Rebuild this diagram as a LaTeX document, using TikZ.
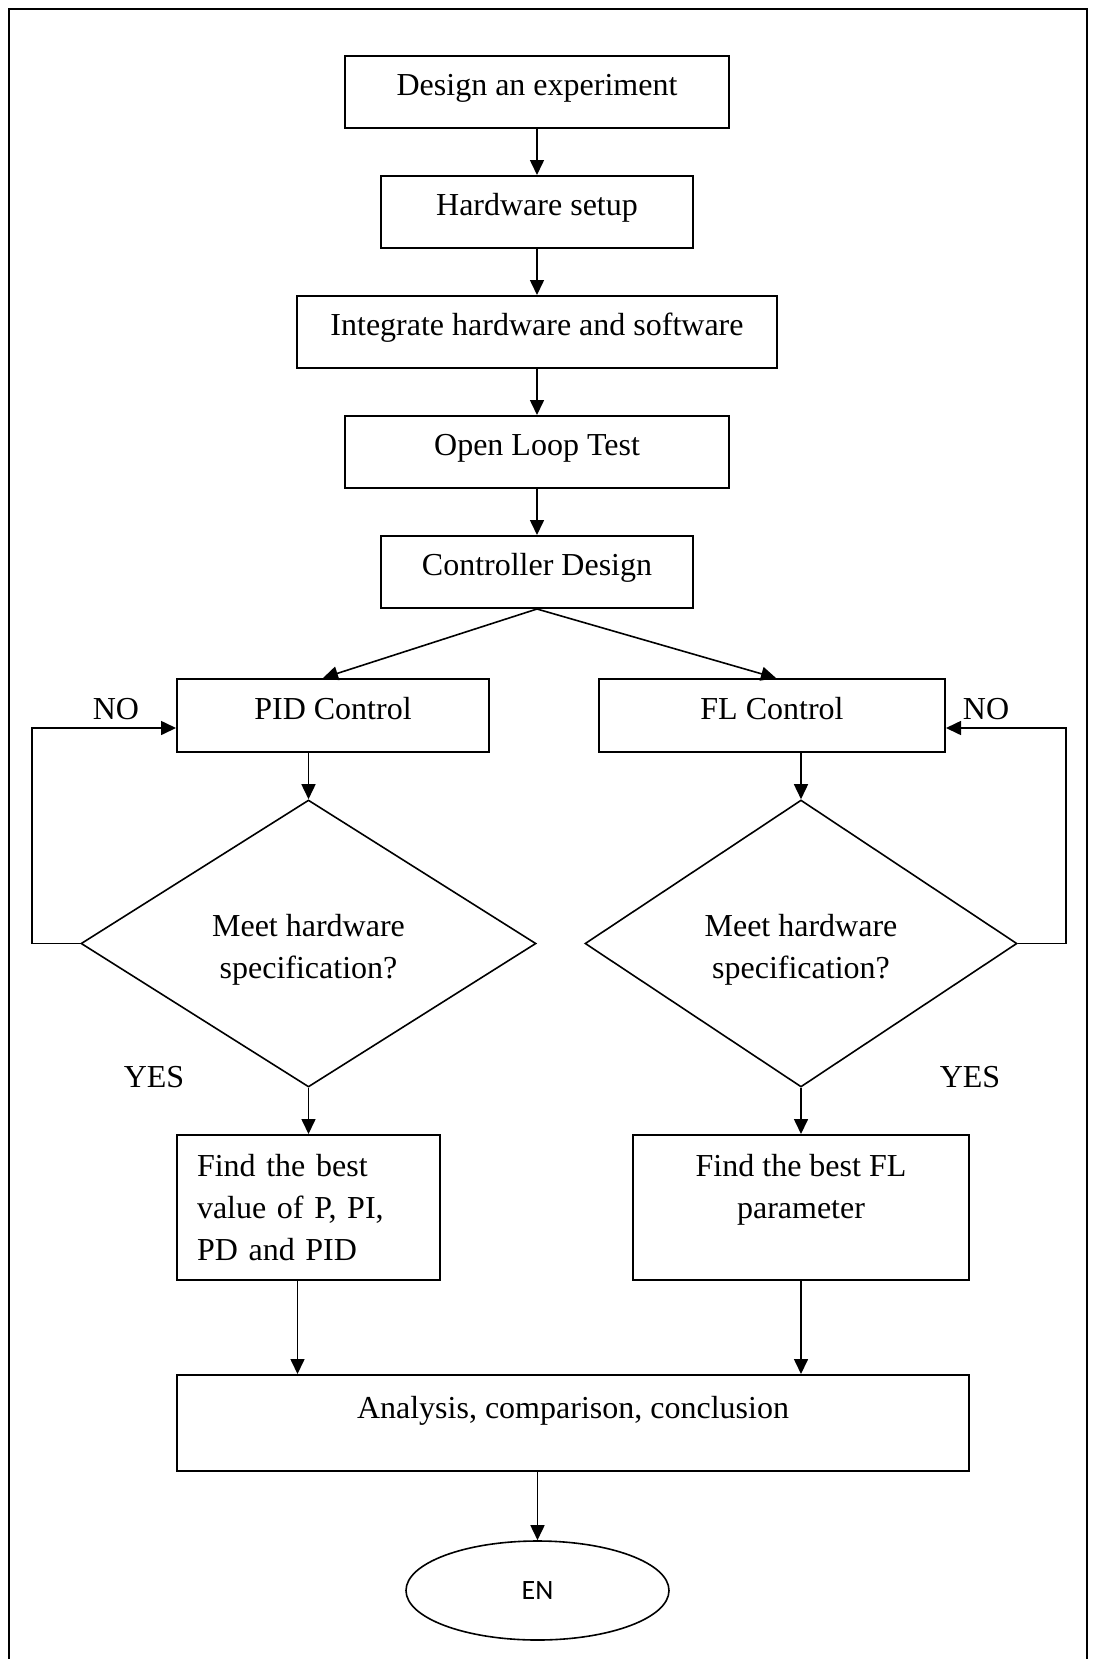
\documentclass[tikz,border=0pt]{standalone}
\usepackage{fontspec}
\setmainfont{Liberation Serif}
\newfontfamily\endfont{Carlito}
\usetikzlibrary{arrows.meta, positioning, shapes.geometric}

\begin{document}
\begin{tikzpicture}[
        x=1pt, y=-1pt,
        ->,
        >={Triangle[length=15pt,width=14pt]},
        line width=1.6pt,
        node distance=120pt,
        font=\fontsize{32}{42}\selectfont,
        box/.style={draw, -, line width=2pt, minimum height=72pt, align=center,
                    inner sep=0pt, text height=22pt, text depth=15pt},
        bigbox/.style={draw, -, line width=2pt, inner sep=0pt, minimum height=145pt},
        test/.style={diamond, draw, -, align=center, inner sep=0pt, minimum height=287pt,
                     text height=76pt},
        stop/.style={ellipse, draw, -, minimum width=263pt, minimum height=99pt,
                     font=\endfont\fontsize{28}{34}\selectfont}]

    \useasboundingbox (0,0) rectangle (1094,1659);
    \draw [-] (9,1670) -- (9,9) -- (1087,9) -- (1087,1670);

    \node [box, minimum width=384pt]  (0) at (537,92) {Design an experiment};
    \node [box, minimum width=312pt]  (1) [below of=0] {Hardware setup};
    \node [box, minimum width=480pt]  (2) [below of=1] {Integrate hardware and software};
    \node [box, minimum width=384pt]  (3) [below of=2] {Open Loop Test};
    \node [box, minimum width=312pt]  (4) [below of=3] {Controller Design};

    \node [box, minimum width=312pt, minimum height=73pt] (5) at (333,715.5) {PID Control};
    \node [box, minimum width=346pt, minimum height=73pt] (6) at (772,715.5) {FL Control};
    \node [test, minimum width=455pt] (7) at (308.5,943.5) {Meet hardware\\specification?};
    \node [test, minimum width=432pt] (8) at (801,943.5) {Meet hardware\\specification?};
    \node [bigbox, minimum width=263pt, text width=223pt, align=left]
        (9) at (308.5,1207.5) {Find the best\\value of P, PI,\\PD and PID};
    \node [bigbox, minimum width=336pt, align=center]
        (10) at (801,1207.5) {Find the best FL\\parameter\\\mbox{}};
    \node [box, minimum width=792pt, minimum height=96pt, text depth=32pt]
        (11) at (573,1423) {Analysis, comparison, conclusion};
    \node [stop] (12) at (537.5,1590.5) {EN};

    \node (no1)  at (116,709)  {NO};
    \node (no2)  at (986,709)  {NO};
    \node (yes1) at (154,1077) {YES};
    \node (yes2) at (970,1077) {YES};

    \path (0) edge (1)
          (1) edge (2)
          (2) edge (3)
          (3) edge (4)
          (4.south) edge ([xshift=-10pt]5.north)
                    edge ([xshift=4pt]6.north)
          (7.north |- 5.south) edge (7.north)
          (8.north |- 6.south) edge (8.north)
          (7) edge (9)
          (8) edge (10)
          ([xshift=-11pt]9.south) edge ([xshift=-11pt]9.south |- 11.north)
          (10.south) edge (10.south |- 11.north)
          (12.north |- 11.south) edge (12.north);

    \draw (7.west) -- ++(-48,0) |- ([yshift=-12.5pt]5.west);
    \draw (8.east) -- ++(48,0) |- ([yshift=-12.5pt]6.east);
\end{tikzpicture}
\end{document}
